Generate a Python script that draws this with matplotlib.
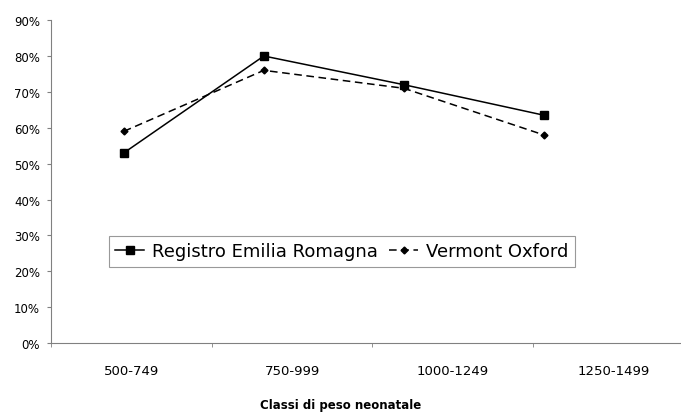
import numpy as np
import matplotlib.pyplot as plt

classi = ["500-749", "750-999", "1000-1249", "1250-1499"]
emilia_romagna = [0.53, 0.80, 0.72, 0.635]
vermont_oxford = [0.59, 0.76, 0.71, 0.58]
y_ticks = np.arange(0, 1.0, 0.1)

fig = plt.figure(figsize=(6.81, 4.14), dpi=100)
ax = fig.add_axes([0.075, 0.169, 0.925, 0.78])

pos = np.arange(len(classi))
ax.plot(pos, emilia_romagna, "-", color="black", lw=1.1, marker="s", ms=5.5,
        label="Registro Emilia Romagna")
ax.plot(pos, vermont_oxford, "--", color="black", lw=1.1, marker="D", ms=3.5,
        dashes=(5, 3), label="Vermont Oxford")
ax.set_xlim(-0.52, 3.98)
ax.set_ylim(0, 0.9)
ax.set_xticks([])

ax.set_yticks(y_ticks)
ax.set_yticklabels(["%d%%" % round(v * 100) for v in y_ticks], fontsize=8.5)
ax.tick_params(axis="y", direction="out", length=3, color="#808080", pad=5)

for s in ["top", "right"]:
    ax.spines[s].set_visible(False)
ax.spines["left"].set_color("#808080")
ax.spines["bottom"].set_color("#808080")

# category axis for labels (separate scale)
ax2 = ax.twiny()
ax2.set_xlim(-0.5, 3.42)
ax2.xaxis.set_ticks_position("bottom")
ax2.xaxis.set_label_position("bottom")
ax2.set_xticks(pos)
ax2.set_xticklabels(classi, fontsize=9.5)
ax2.tick_params(axis="x", which="major", length=0, pad=15)
ax2.set_xticks(np.arange(-0.5, 3.5, 1.0), minor=True)
ax2.tick_params(axis="x", which="minor", direction="out", length=3, color="#808080")
for s in ["top", "right", "left", "bottom"]:
    ax2.spines[s].set_visible(False)
ax2.set_xlabel("Classi di peso neonatale", fontsize=8.5, fontweight="bold")
ax2.xaxis.set_label_coords(0.46, -0.17)

leg = ax.legend(loc="upper left", bbox_to_anchor=(0.092, 0.331), ncol=2, fontsize=13,
                frameon=True, fancybox=False, edgecolor="#808080", handlelength=1.6,
                handletextpad=0.45, columnspacing=0.6, borderpad=0.35, borderaxespad=0)
leg.get_frame().set_linewidth(0.8)

fig.savefig("out.png", dpi=100)
